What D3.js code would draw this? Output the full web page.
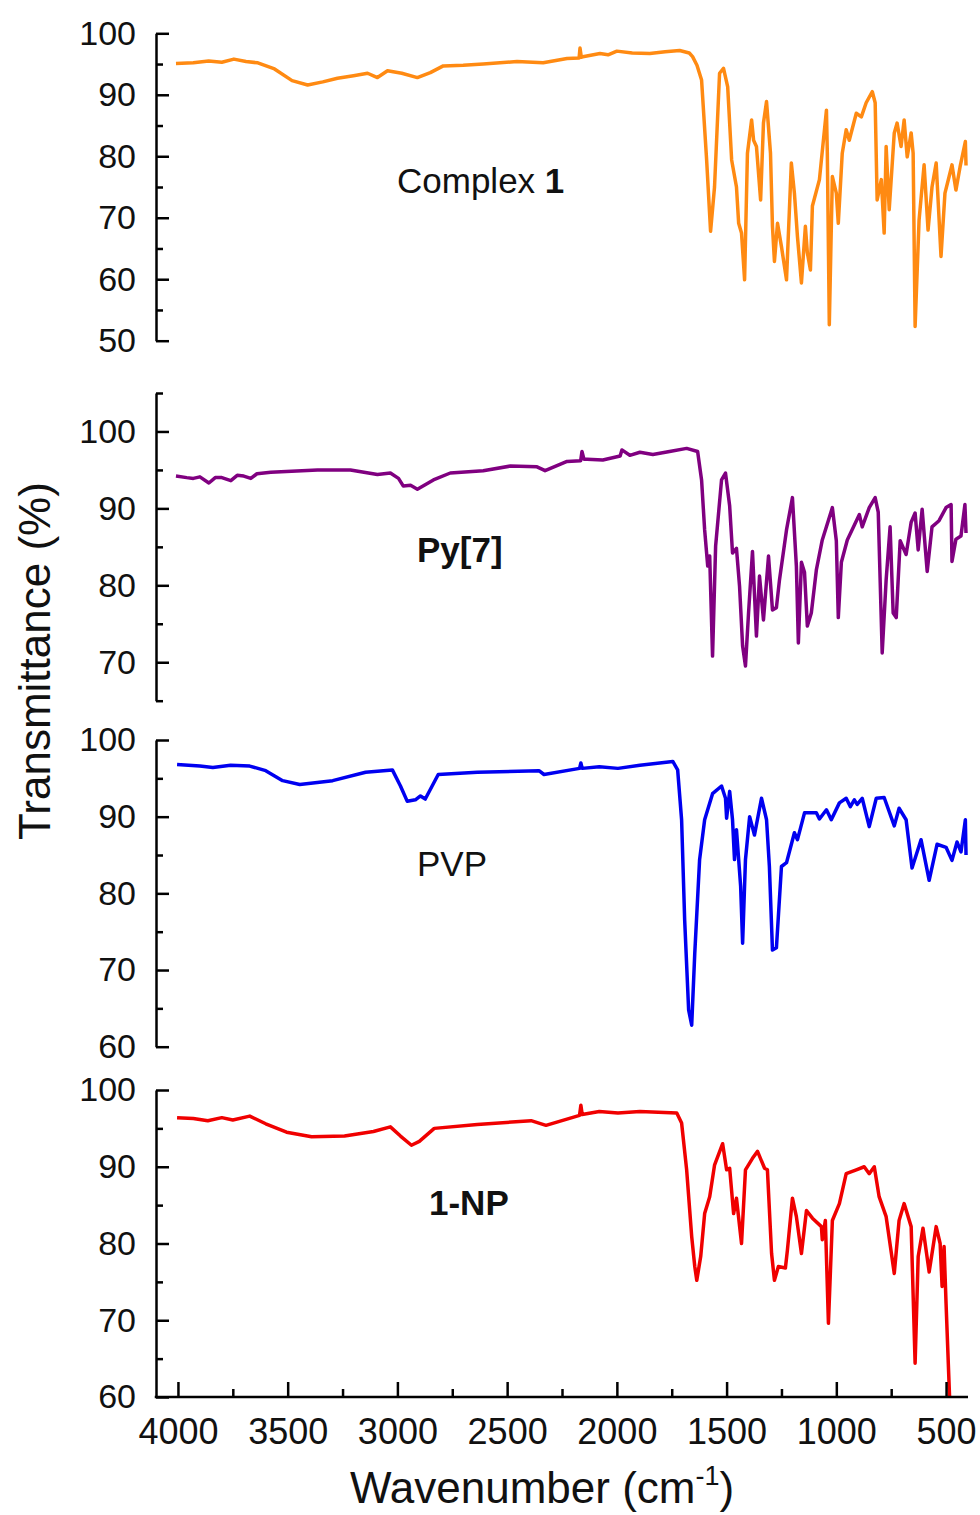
<!DOCTYPE html>
<html>
<head>
<meta charset="utf-8">
<script src="https://cdn.jsdelivr.net/npm/d3@7"></script>
<style>
  body { margin: 0; background: #fff; }
  svg { display: block; font-family: "Liberation Sans", Arial, sans-serif; }
</style>
</head>
<body>
<svg id="chart" width="980" height="1515"></svg>
<script>
// IR spectra: [wavenumber (cm-1), transmittance (%)]
const complexData = [
  [4009, 95.1], [3930, 95.2], [3860, 95.5], [3800, 95.3], [3745, 95.8], [3690, 95.4], [3636, 95.2],
  [3560, 94.2], [3480, 92.3], [3409, 91.6], [3340, 92.1], [3273, 92.7], [3200, 93.1], [3136, 93.5],
  [3091, 92.8], [3045, 93.9], [2980, 93.5], [2909, 92.8], [2850, 93.6], [2791, 94.7], [2700, 94.8],
  [2609, 95.0], [2455, 95.4], [2336, 95.2], [2227, 95.9], [2172, 96.0], [2168, 97.6], [2162, 96.1],
  [2155, 96.2], [2077, 96.7], [2040, 96.5], [2000, 97.1], [1930, 96.8], [1850, 96.7], [1780, 97.0],
  [1714, 97.2], [1670, 96.8], [1655, 96.2], [1635, 94.8], [1614, 92.4], [1591, 79.4], [1573, 67.8],
  [1555, 75.0], [1532, 93.5], [1514, 94.3], [1495, 91.3], [1477, 79.4], [1455, 75.0], [1445, 69.1],
  [1432, 67.5], [1418, 59.9], [1405, 80.5], [1386, 85.9], [1377, 82.6], [1364, 81.6], [1345, 72.9],
  [1332, 85.4], [1318, 88.9], [1300, 80.5], [1291, 68.6], [1282, 62.9], [1268, 69.1], [1250, 65.3],
  [1227, 59.9], [1205, 78.9], [1191, 74.0], [1177, 66.9], [1159, 59.4], [1141, 68.6], [1132, 64.3],
  [1118, 61.5], [1109, 71.9], [1077, 76.2], [1045, 87.5], [1041, 80.5], [1032, 52.6], [1018, 76.7],
  [1000, 74.0], [991, 69.1], [973, 80.5], [955, 84.3], [941, 82.6], [909, 87.0], [886, 86.4],
  [864, 88.7], [836, 90.5], [823, 88.7], [814, 72.9], [795, 76.2], [782, 67.5], [773, 81.6],
  [759, 71.3], [736, 83.8], [723, 85.4], [705, 81.6], [691, 85.9], [677, 79.9], [659, 83.8],
  [650, 80.5], [641, 52.3], [623, 69.6], [600, 78.6], [582, 68.0], [564, 75.0], [545, 78.9],
  [523, 63.7], [505, 74.0], [486, 76.7], [473, 78.6], [455, 74.5], [436, 78.3], [423, 80.5],
  [412, 82.4], [409, 78.5]
];
const pyData = [
  [4009, 94.2], [3960, 94.0], [3930, 93.9], [3900, 94.1], [3859, 93.3], [3830, 94.0], [3800, 94.0],
  [3759, 93.6], [3730, 94.3], [3700, 94.2], [3668, 93.9], [3640, 94.5], [3577, 94.7], [3364, 95.0],
  [3214, 95.0], [3091, 94.4], [3032, 94.6], [2995, 93.9], [2973, 92.9], [2940, 93.0], [2909, 92.5],
  [2836, 93.7], [2759, 94.6], [2609, 94.9], [2486, 95.5], [2364, 95.4], [2327, 94.9], [2227, 96.1],
  [2165, 96.2], [2159, 97.4], [2150, 96.4], [2136, 96.4], [2064, 96.3], [1985, 96.8], [1977, 97.6],
  [1941, 96.9], [1895, 97.3], [1836, 97.0], [1760, 97.4], [1682, 97.8], [1632, 97.4], [1614, 93.7],
  [1600, 87.2], [1586, 82.5], [1577, 83.8], [1564, 70.8], [1550, 85.1], [1523, 93.7], [1505, 94.6],
  [1486, 90.3], [1473, 84.2], [1455, 84.8], [1441, 79.9], [1427, 72.1], [1414, 69.5], [1400, 76.4],
  [1382, 84.4], [1364, 73.4], [1350, 81.2], [1332, 75.5], [1309, 83.8], [1291, 76.8], [1273, 77.1],
  [1259, 80.7], [1227, 87.2], [1200, 91.4], [1182, 82.5], [1173, 72.5], [1159, 83.0], [1145, 81.7],
  [1132, 74.7], [1114, 76.4], [1091, 82.0], [1064, 85.9], [1018, 90.1], [1000, 85.8], [991, 75.8],
  [977, 83.0], [950, 85.9], [895, 89.2], [882, 87.6], [850, 90.1], [823, 91.4], [809, 89.5],
  [791, 71.2], [773, 80.7], [755, 87.6], [741, 76.4], [727, 75.8], [709, 85.8], [682, 84.0],
  [659, 88.2], [641, 89.4], [627, 84.6], [609, 89.9], [586, 81.8], [564, 87.6], [532, 88.4],
  [500, 90.1], [477, 90.5], [473, 83.1], [455, 86.0], [432, 86.4], [414, 90.5], [409, 86.8]
];
const pvpData = [
  [4004, 96.8], [3900, 96.6], [3841, 96.4], [3760, 96.7], [3673, 96.6], [3600, 96.0], [3523, 94.7],
  [3445, 94.2], [3295, 94.7], [3145, 95.8], [3023, 96.1], [2986, 94.0], [2955, 92.0], [2918, 92.2],
  [2895, 92.7], [2873, 92.3], [2814, 95.5], [2636, 95.8], [2355, 96.0], [2332, 95.5], [2170, 96.3],
  [2164, 97.0], [2158, 96.3], [2080, 96.5], [1995, 96.3], [1895, 96.7], [1745, 97.2], [1723, 96.1],
  [1705, 89.6], [1691, 76.5], [1673, 64.8], [1659, 62.8], [1645, 72.2], [1623, 84.4], [1600, 89.6],
  [1564, 93.0], [1523, 94.0], [1505, 92.4], [1500, 89.8], [1486, 93.3], [1473, 89.6], [1464, 84.4],
  [1455, 88.3], [1436, 80.9], [1427, 73.5], [1414, 84.4], [1395, 90.0], [1373, 87.6], [1341, 92.4],
  [1318, 89.6], [1305, 83.5], [1291, 72.6], [1273, 72.9], [1250, 83.5], [1227, 84.0], [1191, 87.9],
  [1177, 87.0], [1145, 90.5], [1091, 90.5], [1077, 89.7], [1045, 90.9], [1023, 89.6], [986, 91.8],
  [955, 92.4], [936, 91.3], [918, 92.2], [905, 91.6], [882, 92.4], [850, 88.7], [818, 92.4],
  [782, 92.5], [736, 88.8], [714, 91.1], [682, 89.6], [655, 83.3], [614, 87.0], [577, 81.7],
  [541, 86.4], [500, 86.0], [473, 84.3], [450, 86.7], [432, 85.4], [412, 89.6], [409, 85.0]
];
const npData = [
  [4004, 96.4], [3930, 96.3], [3864, 96.0], [3800, 96.4], [3750, 96.1], [3673, 96.6], [3600, 95.6],
  [3505, 94.5], [3391, 93.9], [3241, 94.0], [3109, 94.6], [3032, 95.2], [2986, 94.0], [2936, 92.8],
  [2900, 93.3], [2832, 95.0], [2636, 95.5], [2391, 96.0], [2323, 95.4], [2170, 96.7], [2164, 98.0],
  [2158, 96.8], [2080, 97.2], [1995, 97.0], [1895, 97.2], [1727, 97.0], [1705, 95.7], [1682, 89.6],
  [1659, 80.9], [1645, 77.0], [1636, 75.2], [1618, 78.3], [1600, 83.9], [1577, 86.1], [1555, 90.2],
  [1518, 93.0], [1500, 89.6], [1486, 89.8], [1468, 83.9], [1455, 85.9], [1432, 80.0], [1414, 89.6],
  [1382, 91.1], [1359, 92.0], [1327, 89.8], [1314, 89.6], [1295, 78.7], [1282, 75.2], [1264, 77.0],
  [1232, 76.8], [1223, 79.1], [1200, 85.9], [1182, 83.5], [1159, 78.7], [1136, 84.3], [1109, 83.3],
  [1068, 82.2], [1064, 80.5], [1050, 83.0], [1036, 69.6], [1018, 83.0], [986, 85.2], [955, 89.1],
  [909, 89.6], [873, 90.0], [850, 89.1], [827, 90.0], [805, 86.1], [773, 83.5], [736, 76.1],
  [714, 83.0], [691, 85.2], [659, 82.2], [641, 64.4], [627, 78.3], [605, 82.0], [577, 76.3],
  [545, 82.2], [527, 80.0], [518, 74.4], [509, 79.6], [500, 72.2], [482, 58.5]
];

const seriesNames = ["Complex 1", "Py[7]", "PVP", "1-NP"];
const seriesColors = ["#ff8a12", "#800080", "#0000f0", "#f00000"];
const yDomains = [[50, 100], [65, 105], [60, 100], [60, 100]];
const xMajorTicks = [4000, 3500, 3000, 2500, 2000, 1500, 1000, 500];
const xMinorTicks = [3750, 3250, 2750, 2250, 1750, 1250, 750];

// pixel layout of each panel
const panels = [
  { data: complexData, top: 33.3, bottom: 340.7, label: { x: 397, y: 193 } },
  { data: pyData, top: 393, bottom: 700.7, label: { x: 417, y: 562 } },
  { data: pvpData, top: 740, bottom: 1046.7, label: { x: 417, y: 876 } },
  { data: npData, top: 1090, bottom: 1397, label: { x: 429, y: 1215 } }
];

const svg = d3.select("#chart");
const left = 156, right = 968;

const x = d3.scaleLinear().domain([4100, 400]).range([left, right]);

panels.forEach((p, i) => {
  const dom = yDomains[i];
  const y = d3.scaleLinear().domain(dom).range([p.bottom, p.top]);

  const clipId = "clip" + i;
  svg.append("clipPath").attr("id", clipId)
    .append("rect")
    .attr("x", left).attr("y", p.top - 5)
    .attr("width", right - left).attr("height", p.bottom - p.top + 5);

  const line = d3.line().x(d => x(d[0])).y(d => y(d[1]));
  svg.append("path")
    .datum(p.data)
    .attr("clip-path", `url(#${clipId})`)
    .attr("fill", "none")
    .attr("stroke", seriesColors[i])
    .attr("stroke-width", 3.5)
    .attr("stroke-linejoin", "round")
    .attr("d", line);

  const majors = d3.range(Math.ceil(dom[0] / 10) * 10, dom[1] + 0.1, 10);
  const minors = d3.range(Math.ceil(dom[0] / 5) * 5, dom[1] + 0.1, 5).filter(v => v % 10 !== 0);

  const gy = svg.append("g").attr("transform", `translate(${left},0)`);
  gy.call(d3.axisLeft(y).tickValues(majors).tickSizeInner(-13).tickSizeOuter(0).tickPadding(20));
  gy.append("g").call(d3.axisLeft(y).tickValues(minors).tickSizeInner(-7).tickSizeOuter(0).tickFormat(""))
    .select(".domain").remove();
  gy.selectAll("path, line").attr("stroke", "#000").attr("stroke-width", 2.5);
  gy.selectAll("text").attr("font-size", 34).attr("fill", "#111").attr("font-family", "Liberation Sans, Arial");

  const lab = svg.append("text")
    .attr("x", p.label.x).attr("y", p.label.y)
    .attr("font-size", 35).attr("fill", "#111");
  if (i === 0) {
    lab.append("tspan").text("Complex ");
    lab.append("tspan").attr("font-weight", "bold").text("1");
  } else {
    lab.text(seriesNames[i]).attr("font-weight", i === 2 ? "normal" : "bold");
  }
});

// bottom x axis
const gx = svg.append("g").attr("transform", `translate(0,${panels[3].bottom})`);
gx.call(d3.axisBottom(x).tickValues(xMajorTicks).tickFormat(d3.format("d"))
  .tickSizeInner(-15).tickSizeOuter(0).tickPadding(21));
gx.append("g").call(d3.axisBottom(x).tickValues(xMinorTicks).tickSizeInner(-8).tickSizeOuter(0).tickFormat(""))
  .select(".domain").remove();
gx.select(".domain").attr("d", `M${left - 1.25},0H${right}`);
gx.selectAll("path, line").attr("stroke", "#000").attr("stroke-width", 2.5);
gx.selectAll("text").attr("font-size", 36).attr("fill", "#111").attr("font-family", "Liberation Sans, Arial");

// axis titles
svg.append("text")
  .attr("transform", "translate(50,661) rotate(-90)")
  .attr("text-anchor", "middle")
  .attr("font-size", 44).attr("fill", "#111")
  .text("Transmittance (%)");

const xt = svg.append("text")
  .attr("x", 542).attr("y", 1503)
  .attr("text-anchor", "middle")
  .attr("font-size", 44).attr("fill", "#111");
xt.append("tspan").text("Wavenumber (cm");
xt.append("tspan").attr("font-size", 27).attr("dy", -18).text("-1");
xt.append("tspan").attr("dy", 18).text(")");
</script>
</body>
</html>
